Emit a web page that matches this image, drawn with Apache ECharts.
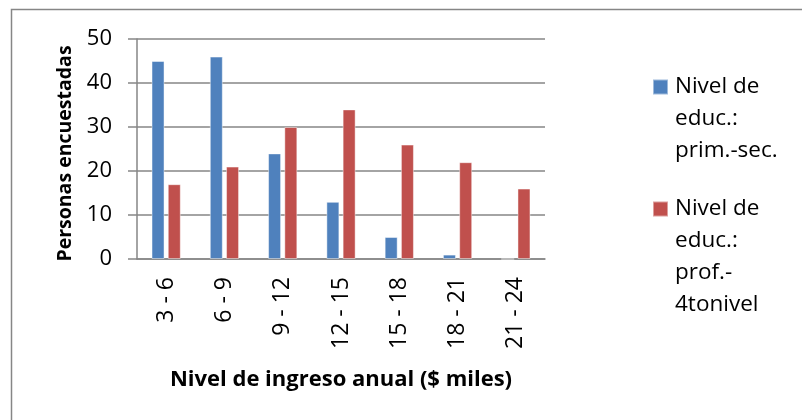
<!DOCTYPE html>
<html>
<head>
<meta charset="utf-8">
<script src="https://cdn.jsdelivr.net/npm/echarts@6/dist/echarts.min.js"></script>
<style>
  html, body { margin: 0; padding: 0; background: #fff; }
  #chart { width: 802px; height: 420px; }
</style>
</head>
<body>
<div id="chart"></div>
<script>
// Income brackets (thousands of $)
const categories = ['3 - 6', '6 - 9', '9 - 12', '12 - 15', '15 - 18', '18 - 21', '21 - 24'];
// People surveyed per bracket, by education level
const primSec = [45, 46, 24, 13, 5, 1, 0];
const prof4to = [17, 21, 30, 34, 26, 22, 16];
const seriesNames = ['Nivel de educ.: prim.-sec.', 'Nivel de educ.: prof.-4tonivel'];
const legendLines = [['Nivel de', 'educ.:', 'prim.-sec.'], ['Nivel de', 'educ.:', 'prof.-', '4tonivel']];
const yTicks = [0, 10, 20, 30, 40, 50];

const FONT = '"Open Sans", "Noto Sans", sans-serif';
const LINE_H = 32;

// Square swatch sitting at the first line of a multi-line legend label
function swatch(lines) {
  const h = lines * LINE_H;
  const top = (LINE_H - 15) / 2;
  return 'path://M0,0 M0,' + top + ' L15,' + top + ' L15,' + (top + 15) + ' L0,' + (top + 15) + ' Z M15,' + h;
}

function legendFor(idx, topPx) {
  const n = legendLines[idx].length;
  return {
    data: [seriesNames[idx]],
    left: 652,
    top: topPx,
    padding: 0,
    orient: 'vertical',
    itemWidth: 15,
    itemHeight: n * LINE_H,
    itemGap: 0,
    icon: swatch(n),
    formatter: () => legendLines[idx].join('\n'),
    textStyle: { fontFamily: FONT, fontSize: 22.5, color: '#000', lineHeight: LINE_H, padding: [0, 0, 0, 2] }
  };
}

const chart = echarts.init(document.getElementById('chart'), null, { renderer: 'canvas' });
chart.setOption({
  animation: false,
  backgroundColor: '#fff',
  textStyle: { fontFamily: FONT },
  graphic: [{
    type: 'rect',
    shape: { x: 11.5, y: 9.5, width: 820, height: 440 },
    style: { fill: 'none', stroke: '#868686', lineWidth: 1.5 },
    silent: true, z: -10
  }],
  grid: { left: 137, right: 257, top: 39, bottom: 161, containLabel: false },
  legend: [legendFor(0, 70), legendFor(1, 192)],
  xAxis: {
    type: 'category',
    data: categories,
    name: 'Nivel de ingreso anual ($ miles)',
    nameLocation: 'middle',
    nameGap: 110,
    nameTextStyle: { fontFamily: FONT, fontSize: 22, fontWeight: 'bold', color: '#000' },
    axisLine: { lineStyle: { color: '#868686', width: 1.5 } },
    axisTick: { show: false },
    axisLabel: { rotate: 90, margin: 18, fontFamily: FONT, fontSize: 23, color: '#000', interval: 0 }
  },
  yAxis: {
    type: 'value',
    min: yTicks[0],
    max: yTicks[yTicks.length - 1],
    interval: yTicks[1] - yTicks[0],
    name: 'Personas encuestadas',
    nameLocation: 'middle',
    nameRotate: 90,
    nameGap: 62,
    nameTextStyle: { fontFamily: FONT, fontSize: 19.5, fontWeight: 'bold', color: '#000', padding: [0, 9, 0, 0] },
    axisLine: { show: true, lineStyle: { color: '#868686', width: 1.5 } },
    axisTick: { show: true, inside: false, length: 9, lineStyle: { color: '#868686', width: 1.5 } },
    axisLabel: { margin: 25, fontFamily: FONT, fontSize: 22, color: '#000' },
    splitLine: { lineStyle: { color: '#868686', width: 1.5 } }
  },
  series: [
    {
      name: seriesNames[0],
      type: 'bar',
      data: primSec,
      barWidth: 13,
      barGap: '25%',
      itemStyle: { color: '#4F81BD', borderColor: 'rgba(255,255,255,0.45)', borderWidth: 1 }
    },
    {
      name: seriesNames[1],
      type: 'bar',
      data: prof4to,
      barWidth: 13,
      barGap: '25%',
      itemStyle: { color: '#C0504D', borderColor: 'rgba(255,255,255,0.45)', borderWidth: 1 }
    }
  ]
});
</script>
</body>
</html>
